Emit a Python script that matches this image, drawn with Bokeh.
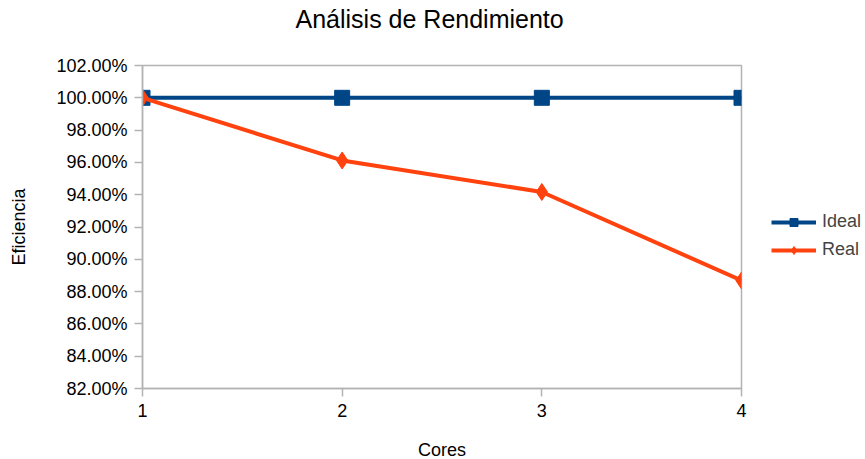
from bokeh.plotting import figure
from bokeh.embed import file_html
from bokeh.resources import INLINE
from bokeh.models import (PrintfTickFormatter, FixedTicker, Range1d, Legend, LegendItem, Title)

cores = [1, 2, 3, 4]
ideal = [100.0, 100.0, 100.0, 100.0]
real = [100.0, 96.12, 94.17, 88.69]
y_ticks = [82, 84, 86, 88, 90, 92, 94, 96, 98, 100, 102]
title_text = "Análisis de Rendimiento"

FONT = "Liberation Sans"
BLUE = "#004586"
ORANGE = "#ff420e"
GRAY = "#b3b3b3"

p = figure(frame_width=599, frame_height=323, output_backend="svg", toolbar_location=None,
           x_range=Range1d(1, 4), y_range=Range1d(82, 102),
           min_border_left=142, min_border_right=0, min_border_top=65, min_border_bottom=66)

p.title = Title(text=title_text, text_font=FONT, text_font_size="25px",
                text_font_style="normal", text_color="#000000", align="left", offset=153,
                standoff=4)
spacer = Title(text=" ", text_font_size="1px", standoff=28)
p.add_layout(spacer, "above")

p.xgrid.visible = False
p.ygrid.visible = False
p.outline_line_color = GRAY
p.outline_line_width = 1.5

for ax in (p.xaxis[0], p.yaxis[0]):
    ax.axis_line_color = GRAY
    ax.axis_line_width = 1.5
    ax.major_tick_line_color = GRAY
    ax.major_tick_line_width = 1.5
    ax.major_tick_in = 0
    ax.major_tick_out = 8
    ax.minor_tick_line_color = None
    ax.major_label_text_font = FONT
    ax.major_label_text_font_size = "18px"
    ax.major_label_text_color = "#000000"
    ax.axis_label_text_font = FONT
    ax.axis_label_text_font_size = "18px"
    ax.axis_label_text_font_style = "normal"
    ax.axis_label_text_color = "#000000"

p.xaxis.ticker = FixedTicker(ticks=cores)
p.xaxis.axis_label = "Cores"
p.xaxis.major_label_standoff = 7
p.xaxis.axis_label_standoff = 20
p.yaxis.ticker = FixedTicker(ticks=y_ticks)
p.yaxis.formatter = PrintfTickFormatter(format="%.2f%%")
p.yaxis.axis_label = "Eficiencia"
p.yaxis.major_label_standoff = 7
p.yaxis.axis_label_standoff = 24

l1 = p.line(cores, ideal, line_color=BLUE, line_width=4)
m1 = p.scatter(cores, ideal, marker="square", size=15, fill_color=BLUE, line_color=BLUE)
l2 = p.line(cores, real, line_color=ORANGE, line_width=4)
m2 = p.scatter(cores, real, marker="diamond", size=17, fill_color=ORANGE, line_color=ORANGE)

legend = Legend(items=[LegendItem(label="Ideal", renderers=[l1, m1]),
                       LegendItem(label="Real", renderers=[l2, m2])],
                location=(30, 128), border_line_color=None, background_fill_alpha=0,
                label_text_font=FONT, label_text_font_size="18px", glyph_width=45,
                glyph_height=20, spacing=7, padding=0, margin=0, label_standoff=6)
p.add_layout(legend, "right")

open("out.html", "w").write(file_html(p, INLINE))
